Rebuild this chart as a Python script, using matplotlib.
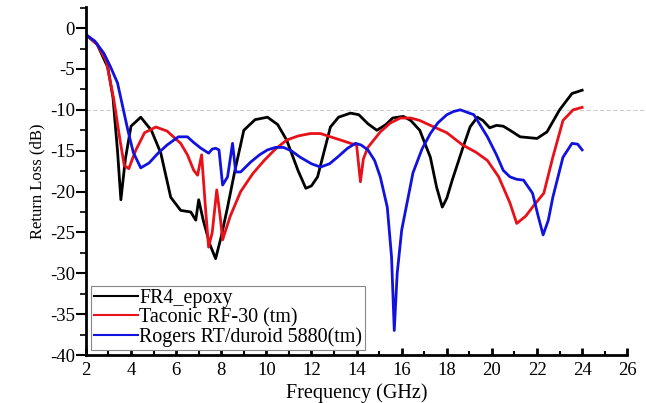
import matplotlib
matplotlib.use("Agg")
import matplotlib.pyplot as plt
from matplotlib.ticker import MultipleLocator

plt.rcParams["font.family"] = ["Liberation Serif", "DejaVu Serif"]
plt.rcParams["axes.unicode_minus"] = False

# FR4_epoxy
fr4_f = [2.0, 2.5, 2.97, 3.2, 3.4, 3.55, 3.75, 4.0, 4.43, 4.9, 5.32, 5.76, 6.2, 6.65, 6.87, 7.0,
         7.2, 7.5, 7.75, 8.0, 8.28, 8.6, 9.0, 9.5, 10.05, 10.5, 10.9, 11.4, 11.75, 12.0, 12.27,
         12.84, 13.2, 13.73, 14.1, 14.5, 14.9, 15.3, 15.6, 16.07, 16.4, 16.8, 17.27, 17.55, 17.8,
         18.0, 18.24, 18.68, 19.03, 19.35, 19.6, 19.9, 20.2, 20.5, 20.8, 21.25, 22.0, 22.44, 23.0,
         23.55, 24.0]
fr4_db = [-0.8, -2.0, -4.8, -8.5, -15.0, -21.0, -16.0, -12.0, -10.9, -12.5, -15.3, -20.7, -22.3,
          -22.5, -23.5, -21.0, -23.5, -26.5, -28.2, -25.5, -21.9, -17.5, -12.5, -11.2, -10.9,
          -11.8, -13.7, -17.4, -19.6, -19.3, -18.2, -12.1, -10.9, -10.4, -10.6, -11.7, -12.5,
          -11.8, -11.0, -10.8, -11.3, -12.5, -15.8, -19.5, -21.9, -20.8, -18.6, -14.9, -12.1,
          -10.9, -11.3, -12.2, -11.9, -12.0, -12.5, -13.3, -13.5, -12.7, -10.0, -8.0, -7.6]

# Taconic RF-30 (tm)
tac_f = [2.0, 2.5, 2.9, 3.24, 3.5, 3.7, 3.9, 4.2, 4.6, 5.1, 5.6, 6.2, 6.5, 6.78, 6.95, 7.13, 7.3,
         7.44, 7.6, 7.8, 7.95, 8.06, 8.4, 8.86, 9.4, 9.9, 10.4, 10.9, 11.4, 11.95, 12.4, 12.84,
         13.3, 13.73, 14.0, 14.17, 14.3, 14.5, 15.05, 15.5, 15.94, 16.4, 16.8, 17.27, 18.0, 18.7,
         19.3, 19.8, 20.3, 20.8, 21.1, 21.5, 21.8, 22.3, 22.7, 23.15, 23.6, 24.0]
tac_db = [-0.8, -2.0, -4.0, -8.8, -13.5, -16.8, -17.2, -15.0, -12.8, -12.1, -12.6, -14.1, -15.5,
          -17.4, -18.0, -15.5, -22.0, -26.8, -25.0, -19.8, -23.0, -25.9, -23.0, -20.0, -17.8,
          -16.2, -14.8, -13.7, -13.2, -12.9, -12.9, -13.3, -13.7, -14.1, -14.3, -18.8, -16.0,
          -14.6, -12.7, -11.6, -11.0, -11.0, -11.3, -11.9, -12.8, -14.3, -15.2, -16.2, -18.2,
          -21.4, -23.9, -23.0, -21.9, -20.2, -15.8, -11.3, -10.0, -9.7]

# Rogers RT/duroid 5880(tm)
rog_f = [2.0, 2.4, 2.8, 3.1, 3.4, 3.86, 4.1, 4.43, 4.8, 5.2, 5.6, 6.1, 6.5, 6.78, 7.1, 7.44, 7.6,
         7.75, 7.9, 8.06, 8.28, 8.5, 8.64, 8.86, 9.3, 9.7, 10.05, 10.4, 10.76, 11.1, 11.5, 12.0,
         12.4, 12.8, 13.15, 13.6, 13.95, 14.2, 14.5, 14.8, 15.05, 15.36, 15.55, 15.67, 15.8, 16.0,
         16.5, 16.9, 17.27, 17.6, 18.0, 18.3, 18.6, 19.2, 19.8, 20.2, 20.5, 20.8, 21.1, 21.4,
         21.8, 22.05, 22.27, 22.5, 22.7, 23.15, 23.55, 23.8, 24.0]
rog_db = [-0.8, -1.6, -3.1, -4.8, -6.7, -12.5, -15.2, -17.1, -16.5, -15.3, -14.3, -13.3, -13.3,
          -14.0, -14.7, -15.3, -14.8, -14.7, -14.9, -19.2, -18.2, -14.1, -17.6, -17.6, -16.4,
          -15.5, -14.9, -14.6, -14.6, -15.0, -15.8, -16.6, -17.0, -16.6, -15.8, -14.7, -14.1,
          -14.3, -14.9, -16.2, -18.2, -21.9, -28.0, -37.0, -30.0, -24.7, -17.7, -14.8, -12.9,
          -11.6, -10.6, -10.2, -10.0, -10.6, -13.3, -15.5, -17.4, -18.2, -18.5, -18.6, -20.2,
          -23.0, -25.3, -23.5, -20.7, -15.8, -14.1, -14.2, -14.9]

fig = plt.figure(figsize=(6.46, 4.03), dpi=100)
ax = fig.add_axes([0.133, 0.119, 0.838, 0.864])

ax.axhline(-10, xmin=0, xmax=1.04, color="#d0d0d0", lw=0.8, ls=(0, (4, 2)), clip_on=False, zorder=0)
ax.plot(fr4_f, fr4_db, color="black", lw=2.0, label="FR4_epoxy")
ax.plot(tac_f, tac_db, color="#e8111a", lw=2.0, label="Taconic RF-30 (tm)")
ax.plot(rog_f, rog_db, color="#1212e0", lw=2.0, label="Rogers RT/duroid 5880(tm)")

ax.set_xlim(2, 26)
ax.set_ylim(-40, 2.6)
ax.xaxis.set_major_locator(MultipleLocator(2))
ax.xaxis.set_minor_locator(MultipleLocator(1))
ax.yaxis.set_major_locator(MultipleLocator(5))
ax.yaxis.set_minor_locator(MultipleLocator(2.5))

for s in ("top", "right"):
    ax.spines[s].set_visible(False)
for s in ("left", "bottom"):
    ax.spines[s].set_linewidth(2.0)

ax.tick_params(axis="x", which="major", direction="in", length=5, width=2, labelsize=13.5, pad=5)
ax.tick_params(axis="x", which="minor", direction="in", length=3, width=1.5)
ax.tick_params(axis="y", which="major", direction="out", length=7, width=1.5, labelsize=13.5, pad=1)
ax.tick_params(axis="y", which="minor", direction="out", length=4, width=1.2)

ax.set_xlabel("Frequency (GHz)", fontsize=14.5, labelpad=3)
ax.set_ylabel("Return Loss (dB)", fontsize=12, labelpad=3)

leg = ax.legend(loc="lower left", bbox_to_anchor=(0.01, 0.015), fontsize=14.4, frameon=True,
                fancybox=False, edgecolor="#888888", framealpha=1, handlelength=2.2,
                handletextpad=0.05, labelspacing=0.0, borderpad=0.15, borderaxespad=0)
leg.get_frame().set_linewidth(0.8)
for ln in leg.get_lines():
    ln.set_linewidth(1.5)

fig.savefig("out.png", dpi=100)
